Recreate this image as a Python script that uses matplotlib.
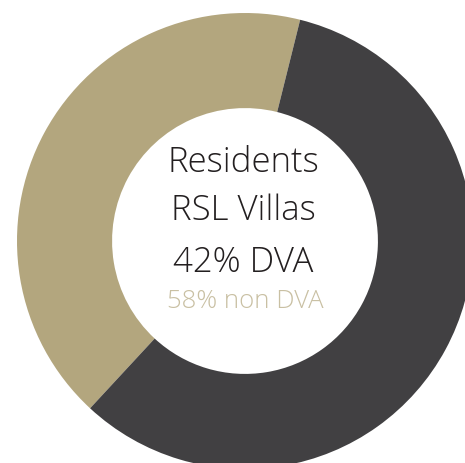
import matplotlib.pyplot as plt

# share of residents
labels = ["DVA", "non DVA"]
shares = [42, 58]
colors = ["#b3a67e", "#414042"]

# centre texts
title_lines = ["Residents", "RSL Villas", "42% DVA"]
sub_line = "58% non DVA"

fig = plt.figure(figsize=(4.65, 4.64), dpi=100)
ax = fig.add_axes([0, 0, 1, 1])

ax.pie(shares, colors=colors, startangle=76, counterclock=True,
       radius=1, wedgeprops=dict(width=0.417, edgecolor="none"))

# place the ring like the reference (cut off at right and bottom)
ax.set_xlim(-245 / 228, 220 / 228)
ax.set_ylim(-222 / 228, 242 / 228)
ax.set_aspect("auto")
ax.axis("off")

font = ["Open Sans", "DejaVu Sans"]
ys = [0.348, 0.136, -0.090]
for txt, y in zip(title_lines, ys):
    ax.text(-0.008, y, txt, ha="center", va="center", fontsize=25,
            color="#231f20", family=font, fontweight="light")
ax.text(0.0, -0.262, sub_line, ha="center", va="center", fontsize=18.5,
        color="#c9c0a3", family=font, fontweight="light")

fig.savefig("out.png", dpi=100)
